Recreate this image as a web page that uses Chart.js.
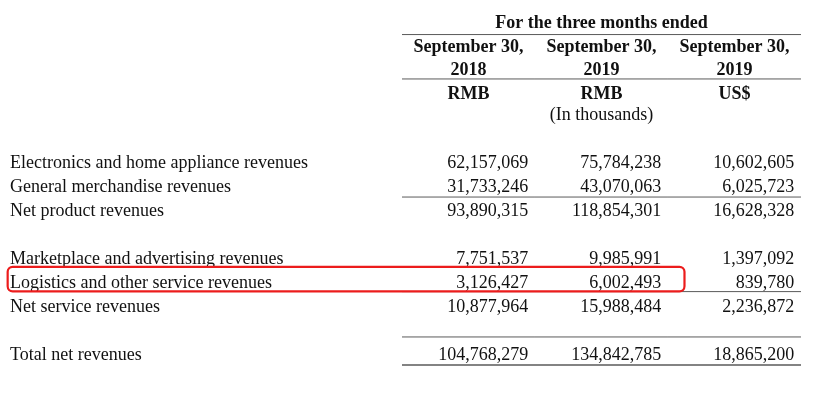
<!DOCTYPE html>
<html>
<head>
<meta charset="utf-8">
<script src="https://cdn.jsdelivr.net/npm/chart.js@4/dist/chart.umd.min.js"></script>
<style>
  html, body { margin: 0; padding: 0; background: #fff; }
  #wrap { width: 826px; height: 406px; }
</style>
</head>
<body>
<div id="wrap"><canvas id="revenue-table" width="826" height="406"></canvas></div>
<script>
// table content
const rowLabels = [
    'Electronics and home appliance revenues',
    'General merchandise revenues',
    'Net product revenues',
    'Marketplace and advertising revenues',
    'Logistics and other service revenues',
    'Net service revenues',
    'Total net revenues'
];
const rowSlots = [0, 1, 2, 4, 5, 6, 8];

const rmb2018 = [62157069, 31733246, 93890315, 7751537, 3126427, 10877964, 104768279];
const rmb2019 = [75784238, 43070063, 118854301, 9985991, 6002493, 15988484, 134842785];
const usd2019 = [10602605, 6025723, 16628328, 1397092, 839780, 2236872, 18865200];

const headerTitle = 'For the three months ended';
const headerDates = ['September 30,', 'September 30,', 'September 30,'];
const headerYears = ['2018', '2019', '2019'];
const headerCurrency = ['RMB', 'RMB', 'US$'];
const unitNote = '(In thousands)';

const highlightRow = 'Logistics and other service revenues';

// column 1..3 are the number columns, labels sit far left
const columns = [1, 2, 3];
const labelX = -2.447;
const FONT = 'Liberation Serif';

function fmt(n) {
    return n.toLocaleString('en-US');
}

function textSet(points, texts, opts) {
    return {
        type: 'scatter',
        data: points,
        texts: texts,
        align: opts.align,
        bold: !!opts.bold,
        pointRadius: 0,
        pointHoverRadius: 0,
        clip: false
    };
}

function rule(y, x0, x1, width) {
    return {
        type: 'line',
        data: [{ x: x0, y: y }, { x: x1, y: y }],
        borderColor: '#5a5a5a',
        borderWidth: width || 1,
        pointRadius: 0,
        clip: false
    };
}

function buildDatasets() {
    const sets = [];
    // header
    sets.push(textSet([{ x: 2, y: -5.79 }], [headerTitle], { align: 'center', bold: true }));
    sets.push(textSet(columns.map(c => ({ x: c, y: -4.79 })), headerDates, { align: 'center', bold: true }));
    sets.push(textSet(columns.map(c => ({ x: c, y: -3.8 })), headerYears, { align: 'center', bold: true }));
    sets.push(textSet(columns.map(c => ({ x: c, y: -2.8 })), headerCurrency, { align: 'center', bold: true }));
    sets.push(textSet([{ x: 2, y: -1.93 }], [unitNote], { align: 'center' }));

    // rows
    sets.push(textSet(rowSlots.map(s => ({ x: labelX, y: s + 0.04 })), rowLabels, { align: 'left' }));
    [rmb2018, rmb2019, usd2019].forEach((vals, i) => {
        sets.push(textSet(rowSlots.map(s => ({ x: columns[i] + 0.45, y: s + 0.04 })), vals.map(fmt), { align: 'right' }));
    });

    // rules
    sets.push(rule(-5.31, 0.5, 3.5));
    columns.forEach(c => {
        sets.push(rule(-3.46, c - 0.5, c + 0.5));
        sets.push(rule(1.46, c - 0.5, c + 0.5));
        sets.push(rule(5.4, c - 0.5, c + 0.5));
        sets.push(rule(7.29, c - 0.5, c + 0.5));
        sets.push(rule(8.46, c - 0.5, c + 0.5, 1.6));
    });
    return sets;
}

const cellText = {
    id: 'cellText',
    afterDatasetsDraw(chart) {
        const ctx = chart.ctx;
        ctx.save();
        ctx.fillStyle = '#111';
        ctx.textBaseline = 'middle';
        chart.data.datasets.forEach((ds, i) => {
            if (!ds.texts) return;
            const meta = chart.getDatasetMeta(i);
            ctx.font = (ds.bold ? 'bold ' : '') + '18px "' + FONT + '"';
            ctx.textAlign = ds.align;
            meta.data.forEach((pt, j) => {
                ctx.fillText(ds.texts[j], pt.x, pt.y);
            });
        });

        // red box round the highlighted row
        const slot = rowSlots[rowLabels.indexOf(highlightRow)];
        const xs = chart.scales.x;
        const ys = chart.scales.y;
        const left = xs.getPixelForValue(labelX - 0.018);
        const right = xs.getPixelForValue(2.624);
        const top = ys.getPixelForValue(slot - 0.63);
        const bottom = ys.getPixelForValue(slot + 0.39);
        ctx.strokeStyle = 'rgb(236, 28, 28)';
        ctx.lineWidth = 2.2;
        ctx.beginPath();
        ctx.roundRect(left, top, right - left, bottom - top, 5);
        ctx.stroke();
        ctx.restore();
    }
};

new Chart(document.querySelector('#revenue-table').getContext('2d'), {
    data: { datasets: buildDatasets() },
    options: {
        responsive: false,
        animation: false,
        devicePixelRatio: 1,
        layout: { padding: 0 },
        plugins: {
            legend: { display: false },
            tooltip: { enabled: false }
        },
        scales: {
            x: { type: 'linear', min: -2.5226, max: 3.688, display: false },
            y: { type: 'linear', min: -6.75, max: 10.167, reverse: true, display: false }
        }
    },
    plugins: [cellText]
});
</script>
</body>
</html>
